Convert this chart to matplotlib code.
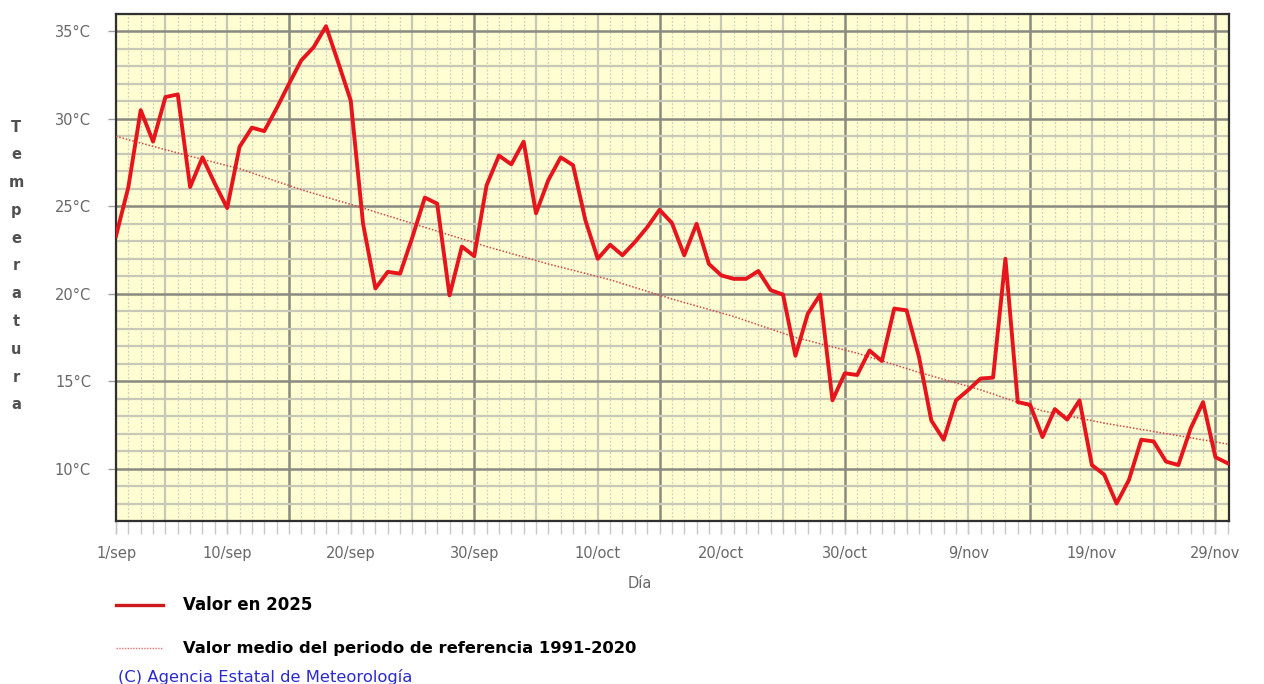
import matplotlib as mpl
mpl.use('agg')
import matplotlib.pyplot as plt
from matplotlib.lines import Line2D

# daily max temperature 2025 (1/sep .. 30/nov)
temp_2025 = [23.3, 26.1, 30.5, 28.7, 31.25, 31.4, 26.1, 27.8, 26.3, 24.9,
             28.4, 29.5, 29.3, 30.6, 32.0, 33.35, 34.1, 35.3, 33.2, 31.05,
             24.0, 20.3, 21.25, 21.15, 23.25, 25.5, 25.15, 19.9, 22.7, 22.15,
             26.2, 27.9, 27.4, 28.7, 24.6, 26.5, 27.8, 27.35, 24.2, 22.0,
             22.8, 22.2, 22.95, 23.8, 24.8, 24.05, 22.2, 24.0, 21.7, 21.05,
             20.85, 20.85, 21.3, 20.2, 19.95, 16.45, 18.85, 19.95, 13.9, 15.45,
             15.35, 16.75, 16.15, 19.15, 19.05, 16.4, 12.75, 11.65, 13.9, 14.5,
             15.15, 15.2, 22.0, 13.8, 13.65, 11.8, 13.4, 12.8, 13.9, 10.2,
             9.65, 8.0, 9.35, 11.65, 11.55, 10.4, 10.2, 12.3, 13.8, 10.65,
             10.3]
days = list(range(len(temp_2025)))

# reference period mean 1991-2020, sampled every 5 days
normal_days = [0, 5, 10, 15, 20, 25, 30, 35, 40, 45, 50, 55, 60, 65, 70, 75, 80, 85, 90]
normal_vals = [29.0, 28.05, 27.15, 25.95, 24.9, 23.8, 22.7, 21.7, 20.8, 19.7,
               18.7, 17.5, 16.6, 15.5, 14.5, 13.3, 12.6, 12.0, 11.4]

label_days = [0, 9, 19, 29, 39, 49, 59, 69, 79, 89]
tick_labels = ['1/sep', '10/sep', '20/sep', '30/sep', '10/oct',
               '20/oct', '30/oct', '9/nov', '19/nov', '29/nov']
y_ticks = [10, 15, 20, 25, 30, 35]
y_labels = ['10\u00b0C', '15\u00b0C', '20\u00b0C', '25\u00b0C', '30\u00b0C', '35\u00b0C']

W, H = 1264, 684
fig = plt.figure(figsize=(W / 100, H / 100), dpi=100, facecolor='white')
ax = fig.add_axes([116 / W, 1 - 521 / H, (1229 - 116) / W, (521 - 14) / H])
ax.set_facecolor('#fefed2')

# grid: dotted every day, solid every 5 days, dark every 15 days
for d in days:
    if d % 15 == 14:
        ax.axvline(d, color='#8a8a80', lw=1.8, zorder=1)
    elif d % 5 == 4:
        ax.axvline(d, color='#c8c8b8', lw=1.6, zorder=1)
    else:
        ax.axvline(d, color='#cfcfc4', lw=0.9, ls=(0, (1.5, 1.5)), zorder=1)
for t in range(7, 37):
    if t % 5 == 0:
        ax.axhline(t, color='#8a8a80', lw=1.8, zorder=1)
    else:
        ax.axhline(t, color='#c8c8b8', lw=1.6, zorder=1)

ax.plot(normal_days, normal_vals, color='#d04848', lw=1.1, ls=(0, (1, 1.2)), zorder=4)
ax.plot(days, temp_2025, color='#e8141c', lw=2.8, zorder=5)

ax.set_xlim(0, 90.1)
ax.set_ylim(7, 36)

ax.set_xticks(label_days)
ax.set_xticklabels(tick_labels)
ax.set_xticks(days, minor=True)
ax.xaxis.remove_overlapping_locs = False
ax.tick_params(axis='x', which='both', length=9, width=1, color='#c8c8c8',
               labelsize=10.5, labelcolor='#686868', pad=9)
ax.set_yticks(y_ticks)
ax.set_yticklabels(y_labels)
ax.tick_params(axis='y', length=6, width=1, color='#a0a0a0',
               labelsize=10.5, labelcolor='#686868', pad=12)

for s in ax.spines.values():
    s.set_color('#303030')
    s.set_linewidth(1.6)

fig.text(640 / W, 1 - 584 / H, 'D\u00eda', ha='center', va='center',
         fontsize=10.5, color='#686868')

# vertical stacked axis title
for k, ch in enumerate('Temperatura'):
    fig.text(16 / W, 1 - (127 + k * 27.8) / H, ch, ha='center', va='center',
             fontsize=10.5, fontweight='bold', color='#505050')

# legend below the chart
fig.add_artist(Line2D([116 / W, 163 / W], [1 - 605 / H, 1 - 605 / H],
                      color='#cc1a1a', lw=2.4, transform=fig.transFigure))
fig.text(183 / W, 1 - 605 / H, 'Valor en 2025', ha='left', va='center',
         fontsize=12, fontweight='bold', color='black')
fig.add_artist(Line2D([116 / W, 163 / W], [1 - 648 / H, 1 - 648 / H],
                      color='#e07070', lw=1.0, ls=(0, (1, 1)),
                      transform=fig.transFigure))
fig.text(183 / W, 1 - 648 / H, 'Valor medio del periodo de referencia 1991-2020',
         ha='left', va='center', fontsize=11.8, fontweight='bold', color='black')
fig.text(118 / W, 1 - 677 / H, '(C) Agencia Estatal de Meteorolog\u00eda',
         ha='left', va='center', fontsize=11.8, color='#2a2ad0')

plt.savefig('out.png', dpi=100)
